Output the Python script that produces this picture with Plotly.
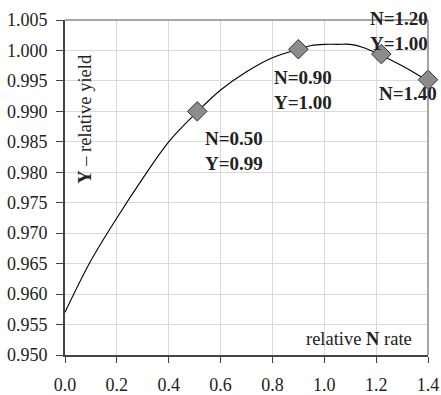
import plotly.graph_objects as go

# curve data (relative N rate vs relative yield)
curve_x = [0.0, 0.1, 0.2, 0.3, 0.4, 0.5, 0.6, 0.7, 0.8, 0.9, 0.95, 1.0, 1.05, 1.1, 1.15, 1.2, 1.3, 1.4]
curve_y = [0.957, 0.9655, 0.9725, 0.979, 0.985, 0.9895, 0.9935, 0.9965, 0.9988, 1.0002, 1.0008, 1.001, 1.001, 1.001, 1.0005, 0.9996, 0.9975, 0.995]

# highlighted points
pt_x = [0.51, 0.90, 1.22, 1.40]
pt_y = [0.990, 1.0002, 0.9994, 0.9952]
pt_labels = ["N=0.50<br>Y=0.99", "N=0.90<br>Y=1.00", "N=1.20<br>Y=1.00", "N=1.40"]
# label anchor positions (paper coords, top-left)
lab_px = [0.380, 0.570, 0.835, 0.860]
lab_py = [0.685, 0.866, 1.042, 0.818]

x_ticks = [0.0, 0.2, 0.4, 0.6, 0.8, 1.0, 1.2, 1.4]
y_ticks = [0.950, 0.955, 0.960, 0.965, 0.970, 0.975, 0.980, 0.985, 0.990, 0.995, 1.000, 1.005]

FONT = "Liberation Serif, Times New Roman, serif"
TXT = "#222222"

fig = go.Figure()
fig.add_trace(go.Scatter(x=curve_x, y=curve_y, mode="lines", line=dict(color="black", width=1.1, shape="spline"),
                         hoverinfo="skip", showlegend=False))
fig.add_trace(go.Scatter(x=pt_x, y=pt_y, mode="markers",
                         marker=dict(symbol="diamond", size=15, color="#8c8c8c", line=dict(color="#333333", width=1)),
                         showlegend=False, cliponaxis=False))

for (px, py, t) in zip(lab_px, lab_py, pt_labels):
    fig.add_annotation(xref="paper", yref="paper", x=px, y=py, text="<b>" + t + "</b>", showarrow=False,
                       xanchor="left", yanchor="top", align="left",
                       font=dict(family=FONT, size=19, color=TXT))

fig.add_annotation(xref="paper", yref="paper", x=0.055, y=0.505, text="<b>Y</b> – relative yield", textangle=-90,
                   showarrow=False, xanchor="center", yanchor="bottom", font=dict(family=FONT, size=18.5, color=TXT))
fig.add_annotation(xref="paper", yref="paper", x=0.962, y=0.012, text="relative <b>N</b> rate",
                   showarrow=False, xanchor="right", yanchor="bottom", font=dict(family=FONT, size=18.5, color=TXT))

# top and right frame lines
fig.add_shape(type="line", xref="paper", yref="paper", x0=0, x1=1, y0=1, y1=1, line=dict(color="#888888", width=1.5))
fig.add_shape(type="line", xref="paper", yref="paper", x0=1, x1=1, y0=0, y1=1, line=dict(color="#888888", width=1.5))

fig.update_layout(
    width=441, height=395,
    margin=dict(l=65, r=13, t=20, b=40, autoexpand=False),
    plot_bgcolor="white", paper_bgcolor="white",
    font=dict(family=FONT, size=18, color=TXT),
    xaxis=dict(range=[0, 1.4], tickvals=x_ticks, ticktext=[f"{v:.1f}" for v in x_ticks], automargin=False,
               showgrid=True, gridcolor="#d9d9d9", gridwidth=1, zeroline=False,
               showline=True, linecolor="#444444", linewidth=2, ticks="outside", ticklen=6, tickcolor="#444444",
               ticklabelstandoff=6, tickfont=dict(family=FONT, size=18, color=TXT)),
    yaxis=dict(range=[0.950, 1.005], tickvals=y_ticks, ticktext=[f"{v:.3f}" for v in y_ticks], automargin=False,
               showgrid=True, gridcolor="#d9d9d9", gridwidth=1, zeroline=False,
               showline=True, linecolor="#444444", linewidth=2, ticks="outside", ticklen=7, tickcolor="#444444",
               ticklabelstandoff=5, tickfont=dict(family=FONT, size=18, color=TXT)),
)

fig.write_html("out.html", config={"displayModeBar": False},
               post_script="document.body.style.margin='0';document.body.style.overflow='hidden';")
